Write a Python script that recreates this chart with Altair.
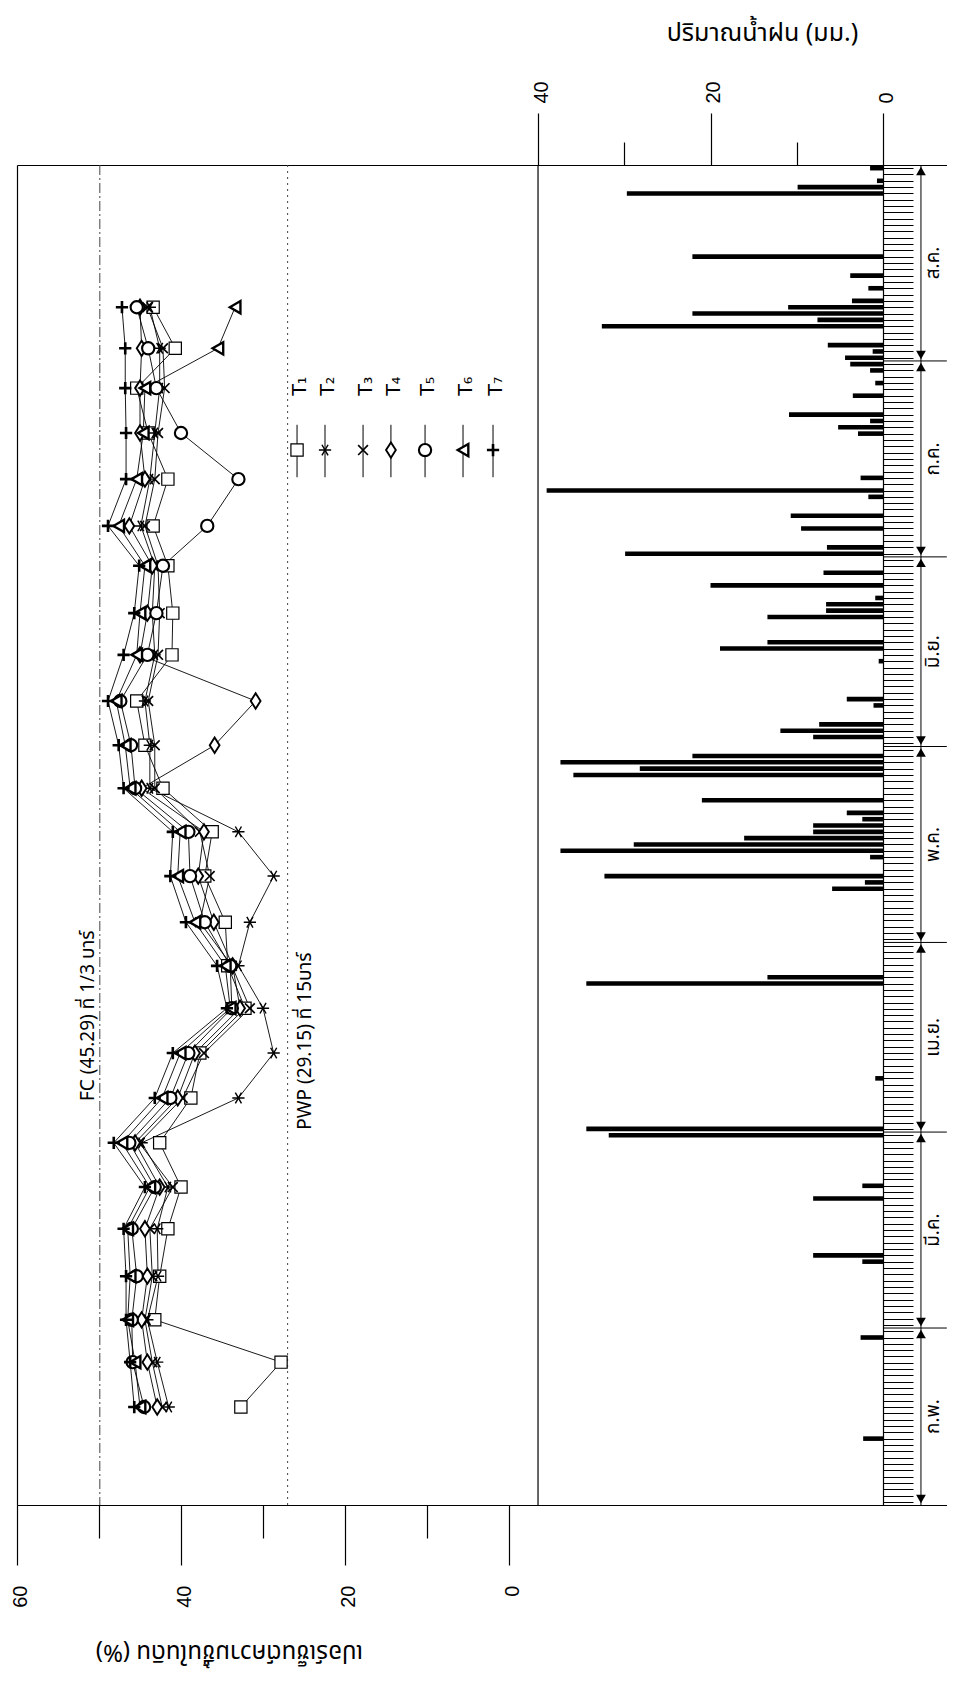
import altair as alt
import pandas as pd

# ---------------- data ----------------
SERIES = ["T1", "T2", "T3", "T4", "T5", "T6", "T7"]
LABELS = ["T₁", "T₂", "T₃", "T₄", "T₅", "T₆", "T₇"]

# measurement dates, in days after 1 February
obs_day = [15.5, 22.6, 29.3, 36.2, 43.7, 50.3, 57.3, 64.4, 71.5, 78.6, 85.3, 92.2, 99.5,
           106.5, 113.4, 120.2, 127.2, 134.5, 141.1, 148.6, 154.9, 162.3, 169.6, 176.7, 183.0, 189.5]

T1 = [32.7, 27.8, 43.2, 42.6, 41.6, 40.0, 42.6, 38.8, 37.7, 32.2, 34.3, 34.6, 37.1,
      36.2, 42.2, 44.4, 45.4, 41.1, 41.0, 41.6, 43.4, 41.6, 44.0, 45.4, 40.7, 43.4]
T2 = [41.5, 42.9, 44.1, 42.8, 42.9, 41.6, 44.8, 33.0, 28.7, 30.0, 33.0, 31.6, 28.7,
      33.0, 43.8, 43.8, 44.4, 43.2, 43.5, 43.2, 44.9, 43.8, 43.2, 42.6, 42.6, 43.8]
T3 = [42.3, 43.5, 44.4, 43.5, 43.8, 41.0, 45.1, 39.8, 37.2, 31.6, 33.8, 37.7, 36.5,
      37.7, 43.2, 43.2, 44.0, 42.8, 42.6, 42.8, 44.4, 43.2, 42.8, 42.0, 42.2, 44.1]
T4 = [42.9, 44.1, 44.8, 44.1, 44.4, 42.6, 45.6, 40.4, 38.3, 32.8, 33.7, 36.0, 37.9,
      37.2, 44.8, 35.9, 30.9, 45.0, 44.1, 43.5, 46.3, 44.4, 45.0, 45.0, 44.8, 45.0]
T5 = [44.5, 45.9, 46.0, 45.4, 46.0, 43.2, 46.3, 41.3, 39.1, 33.8, 34.0, 37.1, 38.9,
      39.1, 45.6, 46.1, 47.4, 44.1, 43.0, 42.2, 36.8, 33.0, 40.0, 43.0, 44.0, 45.4]
T6 = [45.0, 45.6, 46.5, 46.2, 46.5, 43.8, 47.2, 42.3, 40.1, 34.0, 34.6, 38.3, 40.4,
      40.1, 46.2, 46.8, 47.9, 45.4, 45.0, 44.4, 47.6, 45.4, 44.6, 44.4, 35.5, 33.4]
T7 = [45.7, 46.2, 46.7, 46.7, 47.0, 44.4, 48.2, 43.2, 41.0, 34.4, 35.6, 39.4, 41.3,
      41.0, 47.0, 47.6, 48.9, 47.0, 45.7, 45.1, 48.9, 46.7, 46.7, 46.8, 46.8, 47.2]

# daily rainfall (mm); day = days after 1 February
rain_day = [10, 26, 38, 39, 48, 50, 58, 59, 67, 82, 83, 97, 98, 99, 102, 103, 104, 105, 106,
            107, 108, 109, 111, 115, 116, 117, 118, 121, 122, 123, 126, 127, 133, 135, 136,
            140, 141, 142, 143, 145, 147, 150, 151, 154, 156, 159, 160, 162, 169, 170, 171,
            172, 175, 177, 179, 180, 181, 182, 183, 186, 187, 188, 189, 190, 192, 194, 197,
            207, 208, 209, 211]
rain_mm = [2.3, 2.6, 2.4, 8.1, 8.1, 2.4, 31.8, 34.4, 0.9, 34.4, 13.4, 5.9, 2.1, 32.3, 1.5,
           37.4, 28.9, 16.1, 8.1, 8.1, 2.4, 4.2, 21.0, 35.9, 28.2, 37.4, 22.1, 8.1, 11.9, 7.4,
           1.1, 4.2, 0.5, 18.9, 13.4, 13.4, 6.6, 6.6, 0.9, 20.0, 6.9, 29.9, 6.5, 9.5, 10.7,
           1.7, 39.0, 2.6, 2.9, 5.2, 1.5, 10.9, 3.5, 0.9, 1.5, 3.8, 4.4, 1.2, 6.4, 32.6, 7.6,
           22.1, 11.0, 3.6, 1.7, 3.8, 22.1, 29.7, 9.9, 0.7, 1.5]

months = ["ก.พ.", "มี.ค.", "เม.ย.", "พ.ค.", "มิ.ย.", "ก.ค.", "ส.ค."]
month_start = [0, 28, 59, 89, 120, 150, 181]
month_end = [28, 59, 89, 120, 150, 181, 212]

FC_LINE = 49.9      # drawn position of the FC line (axis units)
PWP_LINE = 27.0     # drawn position of the PWP line
FC_TEXT = "FC (45.29) ที่ 1/3 บาร์"
PWP_TEXT = "PWP (29.15) ที่ 15บาร์"
Y_TITLE = "เปอร์เซ็นต์ความชื้นในดิน (%)"
R_TITLE = "ปริมาณน้ำฝน (มม.)"

# ---------------- layout ----------------
THAI = "Noto Sans Thai, Loma, Garuda, Norasi, Noto Sans, DejaVu Sans, sans-serif"
NUM = "Liberation Sans, Arial, sans-serif"
W, H = 930, 1340

y_scale = alt.Scale(domain=[0, 212], nice=False, zero=False)
y_scale_r = alt.Scale(domain=[0, 212], nice=False, zero=False)
xm_scale = alt.Scale(domain=[-53.41, 60], reverse=True, nice=False, zero=False)
xr_scale = alt.Scale(domain=[-7.42, 100.41], reverse=True, nice=False, zero=False)

ax_m = alt.Axis(orient="bottom", values=[0, 10, 20, 30, 40, 50, 60], grid=False,
                tickSize={"condition": {"test": "datum.value % 20 === 0", "value": 60}, "value": 33},
                labelExpr="datum.value % 20 === 0 ? datum.label : ''",
                labelAngle=270, labelAlign="right", labelBaseline="middle", labelPadding=20,
                labelOffset=3,
                labelFontSize=20, labelFont=NUM, labelColor="black",
                domainColor="black", tickColor="black", domainWidth=1.2, tickWidth=1.2,
                title=Y_TITLE, titleAngle=180, titleX=212, titleY=146, titleAlign="center",
                titleBaseline="middle", titleFontSize=24, titleFont=THAI, titleFontWeight="normal",
                titleColor="black", labelFlush=False, labelOverlap=False)
ax_r = alt.Axis(orient="top", values=[0, 10, 20, 30, 40], grid=False,
                tickSize={"condition": {"test": "datum.value % 20 === 0", "value": 52}, "value": 23},
                labelExpr="datum.value % 20 === 0 ? datum.label : ''",
                labelAngle=270, labelAlign="left", labelBaseline="middle", labelPadding=10,
                labelOffset=3,
                labelFontSize=20, labelFont=NUM, labelColor="black",
                domainColor="black", tickColor="black", domainWidth=1.2, tickWidth=1.2,
                title=R_TITLE, titleAngle=0, titleX=745, titleY=-133, titleAlign="center",
                titleBaseline="middle", titleFontSize=25, titleFont=THAI, titleFontWeight="normal",
                titleColor="black", labelFlush=False, labelOverlap=False)
ay_m = alt.Axis(orient="left", ticks=False, labels=False, domain=True, domainColor="black",
                domainWidth=1.2, grid=False, title=None)
ay_r = alt.Axis(orient="right", offset=-64, values=[d + 0.5 for d in range(212)], ticks=True,
                tickSize=30, tickColor="black", tickWidth=1, labels=False, domain=True,
                domainColor="black", domainWidth=1.2, grid=False, title=None)


def XM(f):
    return alt.X(f, scale=xm_scale, axis=ax_m)


def YM(f):
    return alt.Y(f, scale=y_scale, axis=ay_m)


def XR(f):
    return alt.X(f, scale=xr_scale, axis=ax_r)


def YR(f):
    return alt.Y(f, scale=y_scale_r, axis=ay_r)


shape_scale = alt.Scale(domain=SERIES, range=[
    "square",
    "M-1,0L1,0M-0.5,-0.87L0.5,0.87M-0.5,0.87L0.5,-0.87",
    "M-0.8,-0.8L0.8,0.8M-0.8,0.8L0.8,-0.8",
    "M0,-1.25L0.8,0L0,1.25L-0.8,0Z",
    "circle",
    "triangle-left",
    "M-1,0L1,0M0,-1L0,1",
])
sw_scale = alt.Scale(domain=SERIES, range=[1.2, 2.6, 2.8, 1.2, 1.2, 1.2, 2.2])

# ---------------- tables ----------------
all_vals = [T1, T2, T3, T4, T5, T6, T7]
moist = pd.DataFrame([(s, d, v) for s, vals in zip(SERIES, all_vals)
                      for d, v in zip(obs_day, vals)], columns=["series", "day", "value"])

rain = pd.DataFrame({"day": rain_day, "mm": rain_mm})

ref_lines = pd.DataFrame({"pos": [FC_LINE, PWP_LINE], "kind": ["FC", "PWP"]})
ref_text = pd.DataFrame({"pos": [51.3, 24.9], "day": [77.4, 73.4], "txt": [FC_TEXT, PWP_TEXT]})

leg = pd.DataFrame({
    "series": SERIES, "lab": LABELS,
    "lx": [25.85, 22.44, 17.8, 14.4, 10.24, 5.61, 1.95],
})
leg["ly"] = 166.9
leg["ly0"] = 162.6
leg["ly1"] = 170.9
leg["ty"] = 177.0
leg["tx"] = leg["lx"] - 0.35

mon = pd.DataFrame({"m": months, "s": month_start, "e": month_end})
mon["mid"] = (mon["s"] + mon["e"]) / 2
bounds = pd.DataFrame({"b": month_start[1:]})
arrows = pd.DataFrame(
    [{"ya": e - 0.95, "shp": "triangle-up"} for e in month_end] +
    [{"ya": s + 0.95, "shp": "triangle-down"} for s in month_start])

ARROW_X = -4.4
MLABEL_X = -5.8
RIGHT_X = -7.4

# ---------------- moisture panel ----------------
lines = alt.Chart(moist).mark_line(color="black", strokeWidth=0.9).encode(
    x=XM("value:Q"), y=YM("day:Q"), detail="series:N", order="day:Q")
points = alt.Chart(moist).mark_point(filled=True, fill="white", stroke="black", opacity=1,
                                     size=150).encode(
    x=XM("value:Q"), y=YM("day:Q"),
    shape=alt.Shape("series:N", scale=shape_scale, legend=None),
    strokeWidth=alt.StrokeWidth("series:N", scale=sw_scale, legend=None))
fc_rule = alt.Chart(ref_lines).transform_filter("datum.kind == 'FC'").mark_rule(
    color="#444", strokeWidth=1, strokeDash=[10, 3, 2, 3]).encode(x=XM("pos:Q"))
pwp_rule = alt.Chart(ref_lines).transform_filter("datum.kind == 'PWP'").mark_rule(
    color="#444", strokeWidth=1, strokeDash=[2, 4]).encode(x=XM("pos:Q"))
ref_lbl = alt.Chart(ref_text).mark_text(angle=270, fontSize=19, font=THAI, color="black",
                                        align="center", baseline="middle").encode(
    x=XM("pos:Q"), y=YM("day:Q"), text="txt:N")
leg_rule = alt.Chart(leg).mark_rule(color="black", strokeWidth=1).encode(
    x=XM("lx:Q"), y=YM("ly0:Q"), y2="ly1:Q")
leg_pt = alt.Chart(leg).mark_point(filled=True, fill="white", stroke="black", opacity=1,
                                   size=150).encode(
    x=XM("lx:Q"), y=YM("ly:Q"),
    shape=alt.Shape("series:N", scale=shape_scale, legend=None),
    strokeWidth=alt.StrokeWidth("series:N", scale=sw_scale, legend=None))
leg_txt = alt.Chart(leg).mark_text(angle=270, fontSize=19, font="DejaVu Sans", color="black",
                                   align="center", baseline="middle").encode(
    x=XM("tx:Q"), y=YM("ty:Q"), text="lab:N")

moist_layer = alt.layer(lines, fc_rule, pwp_rule, points, ref_lbl, leg_rule, leg_pt, leg_txt)

# ---------------- rainfall panel ----------------
bars = alt.Chart(rain).transform_calculate(yc="datum.day + 0.5", zero="0").mark_rule(
    color="black", strokeWidth=4.6, strokeCap="butt").encode(
    x=XR("mm:Q"), x2="zero:Q", y=YR("yc:Q"))
sep = alt.Chart(pd.DataFrame({"pos": [40]})).mark_rule(color="black", strokeWidth=1.2).encode(
    x=XR("pos:Q"))
mb = alt.Chart(bounds).transform_calculate(x0="0", x1=str(RIGHT_X)).mark_rule(
    color="black", strokeWidth=1).encode(x=XR("x0:Q"), x2="x1:Q", y=YR("b:Q"))
aline = alt.Chart(pd.DataFrame({"pos": [ARROW_X]})).mark_rule(color="black", strokeWidth=1).encode(
    x=XR("pos:Q"))
aheads = alt.Chart(arrows).transform_calculate(ax=str(ARROW_X)).mark_point(
    filled=True, color="black", size=95, opacity=1).encode(
    x=XR("ax:Q"), y=YR("ya:Q"), shape=alt.Shape("shp:N", scale=None, legend=None))
mlab = alt.Chart(mon).transform_calculate(lx=str(MLABEL_X)).mark_text(
    angle=270, fontSize=19, font=THAI, color="black", align="center", baseline="middle").encode(
    x=XR("lx:Q"), y=YR("mid:Q"), text="m:N")

rain_layer = alt.layer(bars, sep, mb, aline, aheads, mlab)

chart = alt.layer(moist_layer, rain_layer).resolve_scale(
    x="independent", y="independent", shape="independent", strokeWidth="independent"
).properties(
    width=W, height=H,
    padding={"left": 9, "top": 157, "right": 0, "bottom": 168},
    autosize=alt.AutoSizeParams(type="none"),
).configure_view(stroke=None).configure(background="white")

chart.save("out.html", embed_options={"renderer": "svg", "actions": False})
